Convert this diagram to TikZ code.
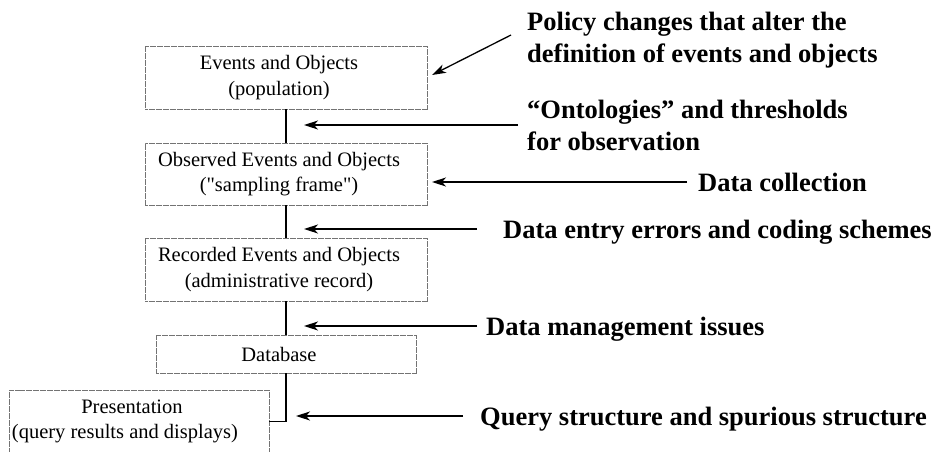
\documentclass[tikz,border=0pt]{standalone}
\usepackage{fontspec}
\setmainfont{Liberation Serif}
\usetikzlibrary{arrows.meta,calc}
\newcommand{\lsh}{\hspace*{-14pt}}
\begin{document}
\begin{tikzpicture}[x=1pt,y=-1pt,
  box/.style={draw=black!55, line width=0.7pt, dash pattern=on 3pt off 0.5pt, rectangle, inner sep=0pt, align=center, font=\fontsize{20.5}{25.5}\selectfont},
  lbl/.style={font=\fontsize{26.5}{32}\selectfont\bfseries, inner sep=0pt, align=left, anchor=base west},
  conn/.style={line width=1.4pt},
  arr/.style={line width=1.3pt, -{Stealth[length=14pt,width=9pt,inset=4pt]}}]
\useasboundingbox (0,0) rectangle (938,451);
\clip (0,0) rectangle (938,451);
% boxes
\node[box, minimum width=282pt, minimum height=63pt] (b1) at (286,77.5) {\lsh Events and Objects\\\lsh(population)};
\node[box, minimum width=282pt, minimum height=62pt] (b2) at (286,174) {\lsh Observed Events and Objects\\\lsh(\textquotedbl sampling frame\textquotedbl)};
\node[box, minimum width=282pt, minimum height=63pt] (b3) at (286,269.5) {\lsh Recorded Events and Objects\\\lsh(administrative record)};
\node[box, minimum width=260pt, minimum height=38pt] (b4) at (286,354) {\lsh Database};
\node[box, minimum width=260pt, minimum height=63pt] (b5) at (139,421.5) {\lsh Presentation\\\lsh\lsh(query results and displays)};
% connectors
\draw[conn] (b1.south) -- (b2.north);
\draw[conn] (b2.south) -- (b3.north);
\draw[conn] (b3.south) -- (b4.north);
\draw[conn] (b4.south) |- (b5.east);
% labels (multi-line nodes: base = baseline of last line)
\node[lbl] (l1) at (527,62) {Policy changes that alter the\\definition of events and objects};
\node[lbl] (l2) at (527,150) {“Ontologies” and thresholds\\for observation};
\node[lbl] (l3) at (698,191) {Data collection};
\node[lbl] (l4) at (503,238) {Data entry errors and coding schemes};
\node[lbl] (l5) at (486,335) {Data management issues};
\node[lbl] (l6) at (480,425) {Query structure and spurious structure};
% arrow ends
\coordinate (s1) at (511,35);  \coordinate (t1) at (432,75);
\coordinate (s2) at (518,125); \coordinate (t2) at (304,125);
\coordinate (s3) at (687,182); \coordinate (t3) at (432,182);
\coordinate (s4) at (477,229); \coordinate (t4) at (304,229);
\coordinate (s5) at (477,326); \coordinate (t5) at (304,326);
\coordinate (s6) at (463,416); \coordinate (t6) at (296,416);
\draw[arr] (s1) -- (t1);
\draw[arr] (s2) -- (t2);
\draw[arr] (s3) -- (t3);
\draw[arr] (s4) -- (t4);
\draw[arr] (s5) -- (t5);
\draw[arr] (s6) -- (t6);
\end{tikzpicture}
\end{document}
